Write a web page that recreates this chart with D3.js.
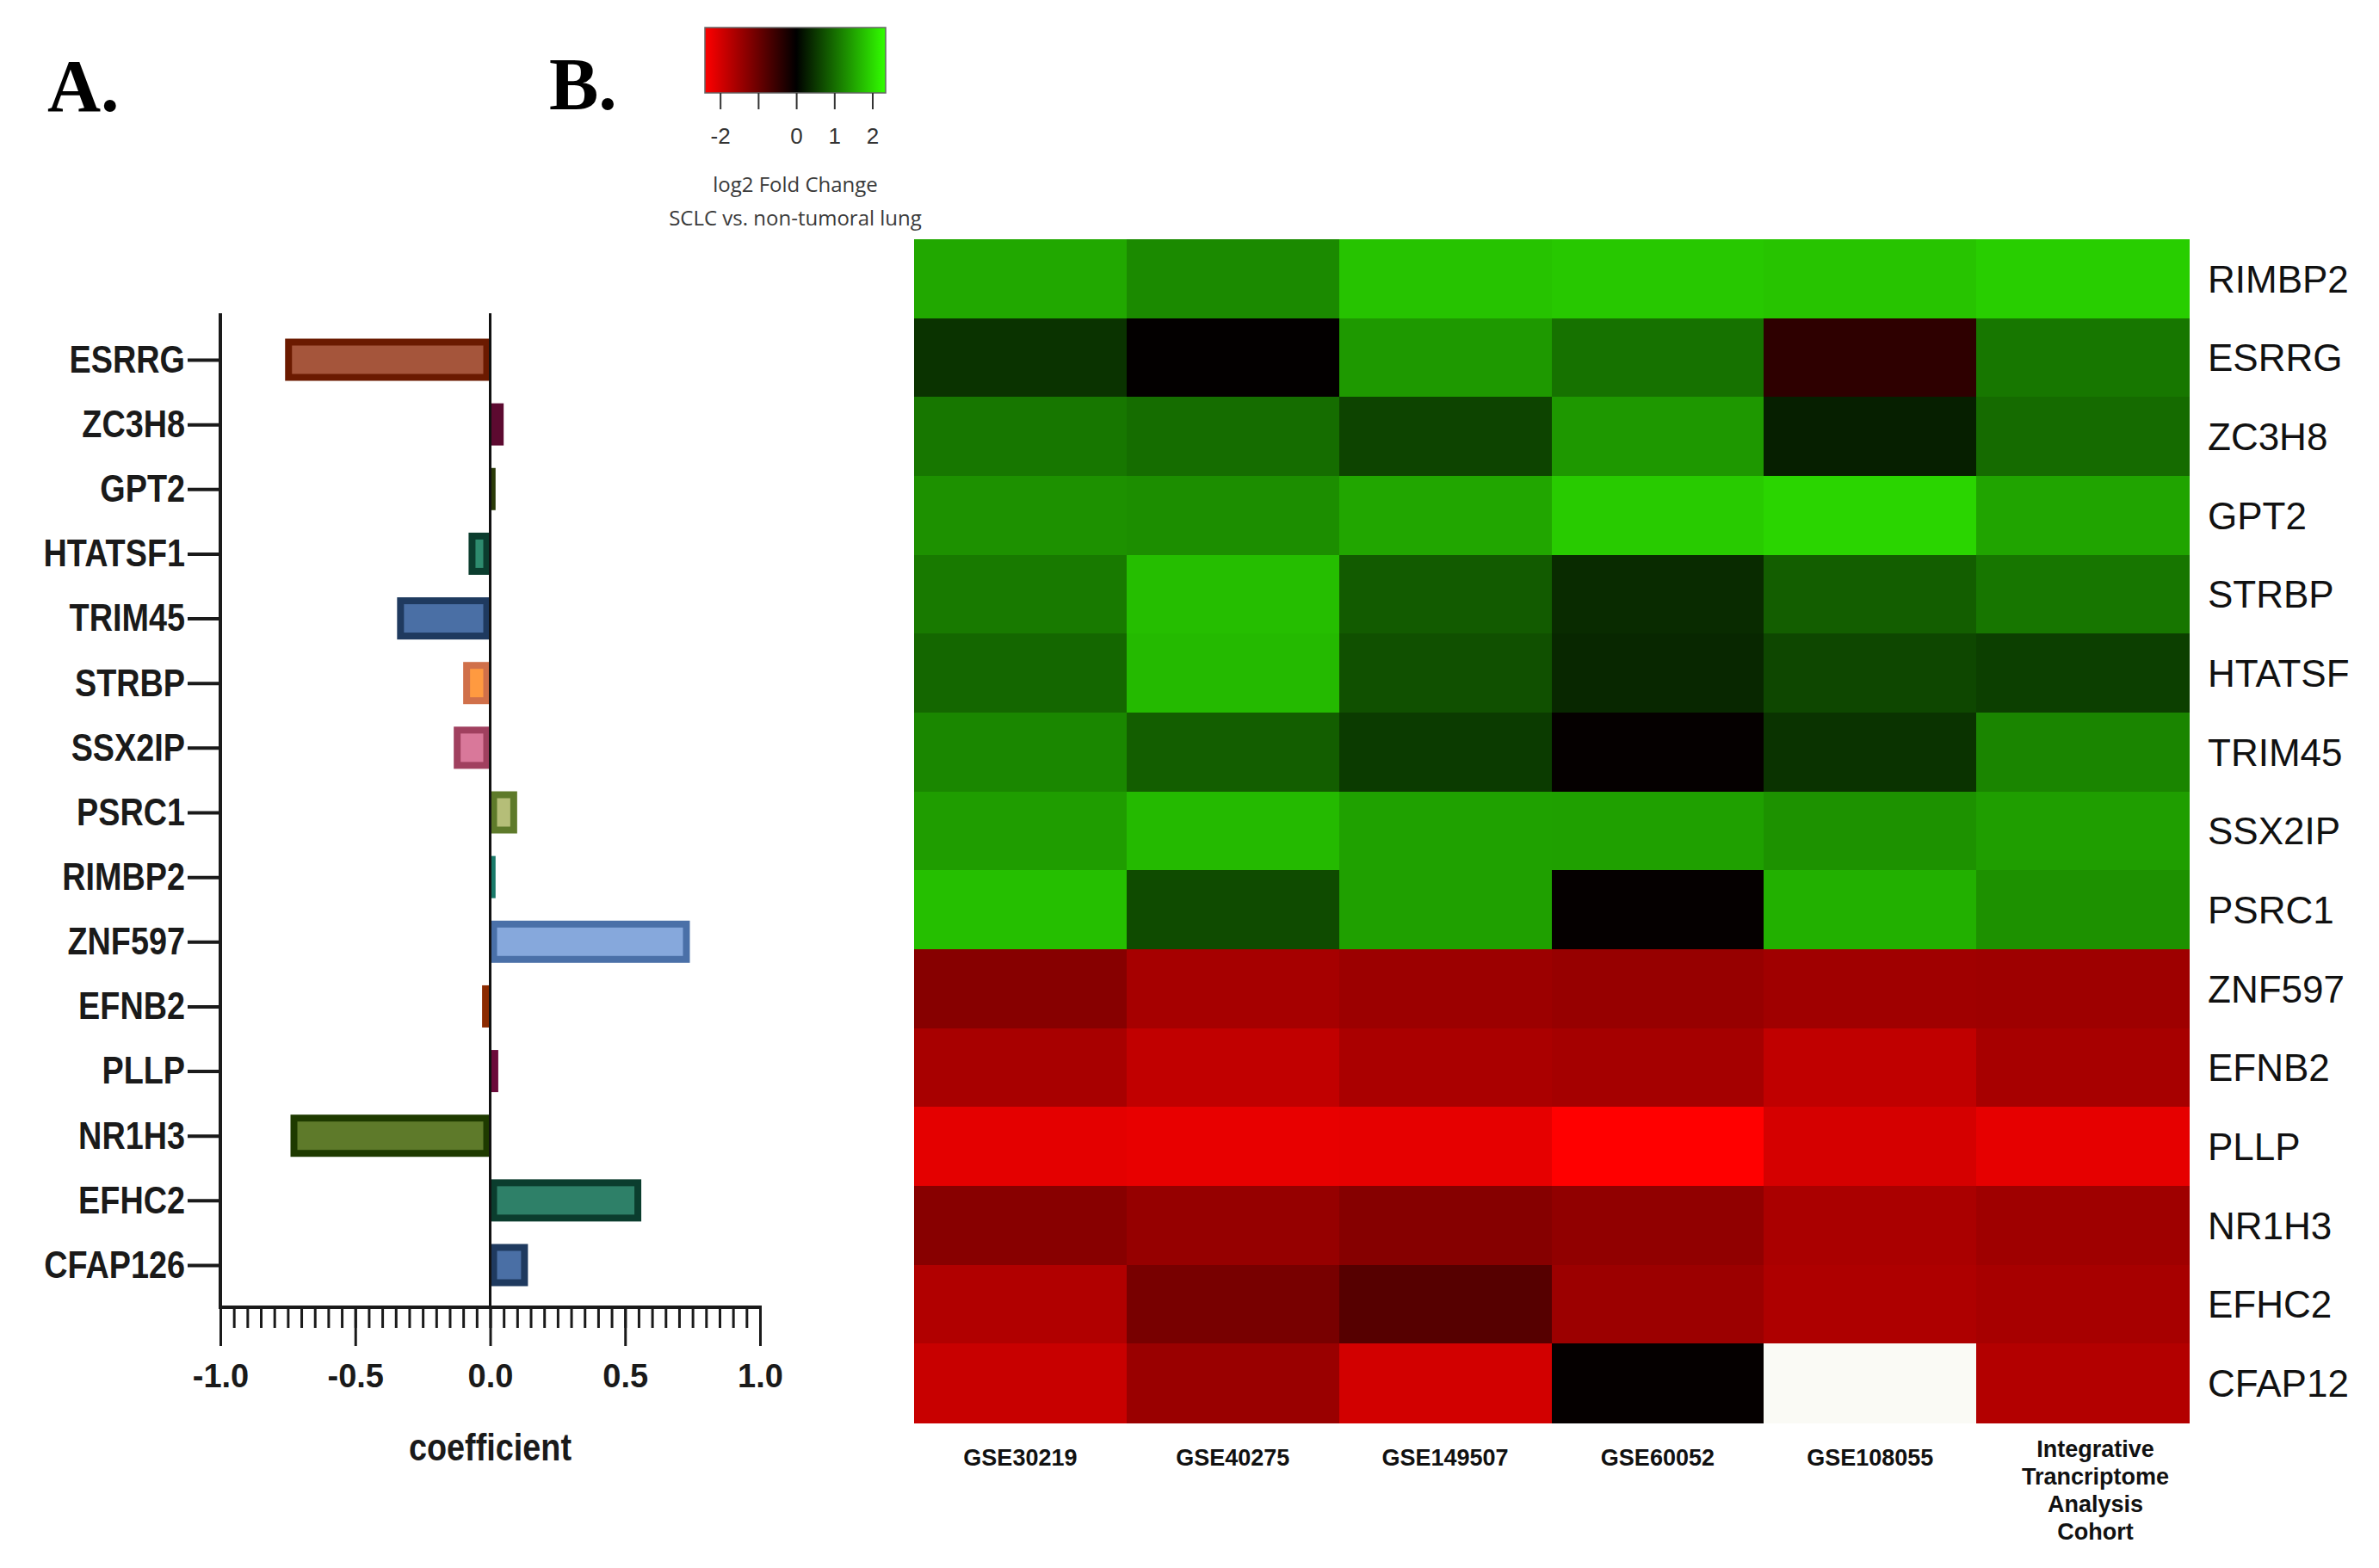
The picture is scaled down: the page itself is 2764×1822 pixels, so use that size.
<!DOCTYPE html>
<html>
<head>
<meta charset="utf-8">
<script src="https://cdn.jsdelivr.net/npm/d3@7"></script>
<style>
  html, body { margin: 0; padding: 0; background: #ffffff; }
  svg { display: block; }
</style>
</head>
<body>
<svg id="chart" width="2764" height="1822"></svg>
<script>
// ---------- Panel A data ----------
const genes = ["ESRRG","ZC3H8","GPT2","HTATSF1","TRIM45","STRBP","SSX2IP","PSRC1","RIMBP2","ZNF597","EFNB2","PLLP","NR1H3","EFHC2","CFAP126"];
const coefficients = [-0.76, 0.05, 0.02, -0.08, -0.345, -0.10, -0.135, 0.10, 0.02, 0.74, -0.03, 0.03, -0.74, 0.56, 0.14];
const barFill   = ["#a5553b","#b04a7a","#4a5a18","#2e8b6e","#4a6fa5","#ff9a40","#d9789a","#b5be78","#2aa890","#86a8dc","#b04a1a","#9a2060","#5e7a2a","#2e8068","#4a6fa5"];
const barStroke = ["#6b1a00","#5c0a30","#2a3a08","#0b3d2e","#1f3a5f","#d0704a","#a0405f","#5e7a2a","#1a7a6a","#4a70a8","#8b2a00","#6b0a3a","#1e3a00","#0b3d2e","#1f3a5f"];
const xMajorTicks = [-1.0, -0.5, 0.0, 0.5, 1.0];
const xTitle = "coefficient";

// ---------- Panel B data ----------
const hmGenes = ["RIMBP2","ESRRG","ZC3H8","GPT2","STRBP","HTATSF","TRIM45","SSX2IP","PSRC1","ZNF597","EFNB2","PLLP","NR1H3","EFHC2","CFAP12"];
const datasets = ["GSE30219","GSE40275","GSE149507","GSE60052","GSE108055","Integrative\nTrancriptome\nAnalysis\nCohort"];
const GSE30219  = [1.55, 0.47, 1.10, 1.34, 1.12, 0.95, 1.24, 1.45, 1.76, -1.27, -1.58, -2.15, -1.28, -1.67, -1.88];
const GSE40275  = [1.27, -0.03, 1.00, 1.31, 1.75, 1.71, 0.87, 1.71, 0.69, -1.56, -1.82, -2.18, -1.41, -1.13, -1.45];
const GSE149507 = [1.80, 1.41, 0.63, 1.53, 0.84, 0.74, 0.54, 1.48, 1.47, -1.47, -1.60, -2.16, -1.26, -0.81, -1.98];
const GSE60052  = [1.84, 1.05, 1.40, 1.87, 0.40, 0.36, -0.05, 1.47, -0.05, -1.42, -1.55, -2.40, -1.36, -1.47, -0.05];
const GSE108055 = [1.81, -0.43, 0.29, 1.96, 0.87, 0.65, 0.47, 1.35, 1.62, -1.51, -1.81, -2.00, -1.60, -1.64, null];
const ITAC      = [1.90, 1.10, 0.99, 1.51, 1.09, 0.58, 1.23, 1.46, 1.34, -1.49, -1.57, -2.16, -1.50, -1.57, -1.68];
const columns = [GSE30219, GSE40275, GSE149507, GSE60052, GSE108055, ITAC];
const legendTicks = [-2, -1, 0, 1, 2];
const legendTickLabels = ["-2", "", "0", "1", "2"];
const legendTitle = ["log2 Fold Change", "SCLC vs. non-tumoral lung"];

const svg = d3.select("#chart");
svg.append("rect").attr("width", 2764).attr("height", 1822).attr("fill", "#ffffff");

const SANS = "'Liberation Sans', Arial, Helvetica, sans-serif";
const SERIF = "'Liberation Serif', 'Times New Roman', serif";

// Panel letters
svg.append("text").attr("x", 55).attr("y", 129).text("A.")
  .attr("font-family", SERIF).attr("font-weight", "bold").attr("font-size", 86).attr("fill", "#000");
svg.append("text").attr("x", 638).attr("y", 127).text("B.")
  .attr("font-family", SERIF).attr("font-weight", "bold").attr("font-size", 86).attr("fill", "#000");

// ================= Panel A: bar chart =================
const axTop = 364, axBottom = 1519;
const x = d3.scaleLinear().domain([-1, 1]).range([256, 883]);
const y = d3.scalePoint().domain(genes).range([418, 1470]);
const barH = 49, sw = 8;

const gA = svg.append("g");

// bars
const bars = genes.map((g, i) => ({ g, v: coefficients[i], fill: barFill[i], stroke: barStroke[i] }));
bars.forEach(d => {
  const x0 = Math.min(x(0), x(d.v)), x1 = Math.max(x(0), x(d.v));
  const w = x1 - x0;
  const yc = y(d.g);
  if (w > sw * 1.6) {
    gA.append("rect")
      .attr("x", x0 + sw / 2).attr("y", yc - barH / 2 + sw / 2)
      .attr("width", w - sw).attr("height", barH - sw)
      .attr("fill", d.fill).attr("stroke", d.stroke).attr("stroke-width", sw);
  } else {
    gA.append("rect")
      .attr("x", x0).attr("y", yc - barH / 2)
      .attr("width", w).attr("height", barH)
      .attr("fill", d.stroke);
  }
});

// zero line
gA.append("line").attr("x1", x(0)).attr("x2", x(0)).attr("y1", axTop).attr("y2", axBottom)
  .attr("stroke", "#111").attr("stroke-width", 3);

// y axis
const yAxis = d3.axisLeft(y).tickSize(38).tickPadding(3);
const gy = gA.append("g").attr("transform", `translate(${x(-1)},0)`).call(yAxis);
gy.select(".domain").remove();
gy.append("line").attr("x1", 0).attr("x2", 0).attr("y1", axTop).attr("y2", axBottom + 2)
  .attr("stroke", "#1a1a1a").attr("stroke-width", 4);
gy.selectAll(".tick line").attr("stroke", "#1a1a1a").attr("stroke-width", 4);
gy.selectAll(".tick text")
  .attr("font-family", SANS).attr("font-weight", "bold").attr("font-size", 45)
  .attr("fill", "#1a1a1a")
  .attr("x", -41 / 0.84)
  .attr("transform", "scale(0.84,1)");

// x axis: minor ticks
const minorVals = d3.range(-20, 21).map(k => k / 20);
const gxMinor = gA.append("g").attr("transform", `translate(0,${axBottom})`)
  .call(d3.axisBottom(x).tickValues(minorVals).tickSize(24).tickFormat(""));
gxMinor.select(".domain").remove();
gxMinor.selectAll(".tick line").attr("stroke", "#1a1a1a").attr("stroke-width", 3);

const gx = gA.append("g").attr("transform", `translate(0,${axBottom})`)
  .call(d3.axisBottom(x).tickValues(xMajorTicks).tickSize(45).tickPadding(21).tickFormat(d3.format(".1f")));
gx.select(".domain").attr("stroke", "#1a1a1a").attr("stroke-width", 4)
  .attr("d", `M${x(-1) - 2},0H${x(1) + 2}`);
gx.selectAll(".tick line").attr("stroke", "#1a1a1a").attr("stroke-width", 3);
gx.selectAll(".tick text")
  .attr("font-family", SANS).attr("font-weight", "bold").attr("font-size", 38).attr("fill", "#1a1a1a")
  .text(d => d3.format(".1f")(d).replace("−", "-"));

gA.append("text").attr("transform", `translate(${x(0)},1697) scale(0.84,1)`)
  .attr("text-anchor", "middle").text(xTitle)
  .attr("font-family", SANS).attr("font-weight", "bold").attr("font-size", 45).attr("fill", "#1a1a1a");

// ================= Panel B: heatmap =================
const color = d3.scaleLinear().domain([-2.4, 0, 2.35]).range(["#ff0000", "#000000", "#32ff00"]).clamp(true);
const cx = d3.scaleBand().domain(d3.range(datasets.length)).range([1062, 2543]);
const cy = d3.scaleBand().domain(hmGenes).range([278, 1653]);

const gB = svg.append("g");
const cells = [];
columns.forEach((col, j) => col.forEach((v, i) => cells.push({ j, gene: hmGenes[i], v })));
gB.selectAll("rect.cell").data(cells).join("rect").attr("class", "cell")
  .attr("x", d => cx(d.j)).attr("y", d => cy(d.gene))
  .attr("width", cx.bandwidth() + 0.5).attr("height", cy.bandwidth() + 0.5)
  .attr("fill", d => d.v === null ? "#fafaf5" : color(d.v))
  .attr("shape-rendering", "crispEdges");

// row labels
gB.selectAll("text.row").data(hmGenes).join("text").attr("class", "row")
  .attr("x", 2565).attr("y", d => cy(d) + cy.bandwidth() / 2)
  .attr("dy", "0.36em").text(d => d)
  .attr("font-family", SANS).attr("font-size", 44).attr("fill", "#111");

// column labels
datasets.forEach((lab, j) => {
  const lines = lab.split("\n");
  const t = gB.append("text").attr("text-anchor", "middle")
    .attr("font-family", SANS).attr("font-weight", "bold").attr("font-size", 27).attr("fill", "#111");
  const y0 = lines.length > 1 ? 1693 : 1703;
  lines.forEach((ln, k) => {
    t.append("tspan").attr("x", cx(j) + cx.bandwidth() / 2 + (lines.length > 1 ? 15 : 0))
      .attr("y", y0 + k * 32).text(ln);
  });
});

// legend
const lx = d3.scaleLinear().domain([-2.4, 2.35]).range([819, 1029]);
const defs = svg.append("defs");
const grad = defs.append("linearGradient").attr("id", "lg").attr("x1", "0%").attr("x2", "100%");
[-2.4, -1.2, 0, 1.2, 2.35].forEach(v => {
  grad.append("stop").attr("offset", ((lx(v) - 819) / 210 * 100) + "%").attr("stop-color", color(v));
});
const gL = svg.append("g");
gL.append("rect").attr("x", 819).attr("y", 32).attr("width", 210).attr("height", 76)
  .attr("fill", "url(#lg)").attr("stroke", "#666").attr("stroke-width", 1.5);
const gLa = gL.append("g").attr("transform", "translate(0,108)")
  .call(d3.axisBottom(lx).tickValues(legendTicks).tickSize(19).tickPadding(22)
    .tickFormat((d, i) => legendTickLabels[i]));
gLa.select(".domain").remove();
gLa.selectAll(".tick line").attr("stroke", "#333").attr("stroke-width", 2);
gLa.selectAll(".tick text").attr("font-family", SANS).attr("font-size", 26).attr("fill", "#333");
legendTitle.forEach((t, k) => {
  gL.append("text").attr("x", 924).attr("y", 223 + k * 39).attr("text-anchor", "middle").text(t)
    .attr("font-family", "'Open Sans', 'Noto Sans', sans-serif").attr("font-size", 24).attr("fill", "#3a3a3a");
});
</script>
</body>
</html>
